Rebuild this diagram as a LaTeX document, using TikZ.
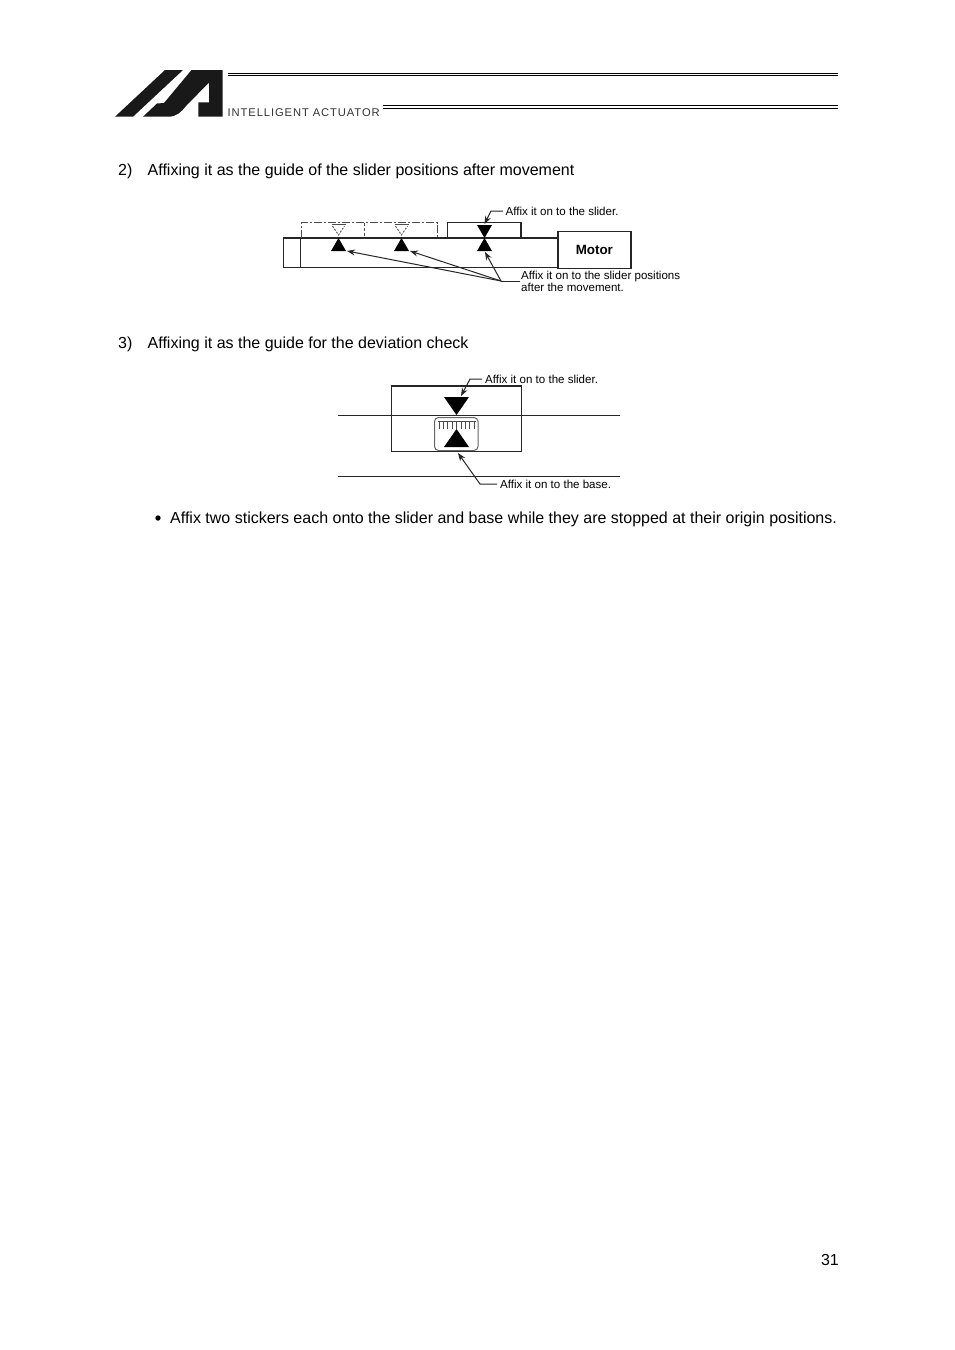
\documentclass[tikz,border=0pt]{standalone}
\usepackage{fontspec}
\setmainfont{Liberation Sans}
\usetikzlibrary{arrows.meta}
\tikzset{
 x=1pt,y=-1pt,
 body/.style={anchor=base west,inner sep=0pt,font=\fontsize{16}{18}\selectfont},
 small/.style={anchor=base west,inner sep=0pt,align=left,font=\fontsize{11.55}{12}\selectfont},
 ln/.style={draw=black!85,line width=1.7pt},
 lead/.style={draw=black!85,line width=1pt},
 arr/.style={lead,-{Stealth[length=8pt,width=6pt]}},
 ghost/.style={draw=black!70,line width=0.9pt},
 tri/.style={fill=black,draw=none}
}
\begin{document}
\begin{tikzpicture}
\useasboundingbox (0,0) rectangle (954,1350);
\fill[white] (0,0) rectangle (954,1350);
% logo
\fill[black!90] (115,116.7) -- (165,70) -- (183,70) -- (133,116.7) -- cycle;
\fill[black!90] (143,116.7) -- (157,103.5) -- (164,103) -- (191.5,70) -- (222.7,70) -- (222.7,116.7) -- (198.3,116.7) -- (198.3,102.3) -- (209,102.3) -- (209,82.5) -- (186,106) .. controls (181,112) and (177,116.7) .. (168,116.7) -- cycle;
\draw[draw=black,line width=1.2pt] (228,73.2) -- (838,73.2);
\draw[draw=black,line width=0.7pt] (228,75.8) -- (838,75.8);
\draw[draw=black,line width=1.2pt] (383,105.8) -- (838,105.8);
\draw[draw=black,line width=1.4pt] (383,108.3) -- (838,108.3);
\node[anchor=base west,inner sep=0pt,font=\fontsize{11.2}{12}\selectfont\addfontfeature{LetterSpace=8},text=black!80] (brand) at (227.5,116) {INTELLIGENT ACTUATOR};
% headings
\node[body] (h2n) at (118,175) {2)};
\node[body] (h2) at (147.5,175) {Affixing it as the guide of the slider positions after movement};
\node[body] (h3n) at (118,348) {3)};
\node[body] (h3) at (147.5,348) {Affixing it as the guide for the deviation check};
\fill (158,518) circle (2.7);
\node[body] (note) at (170,523) {Affix two stickers each onto the slider and base while they are stopped at their origin positions.};
\node[anchor=base east,inner sep=0pt,font=\fontsize{16}{18}\selectfont] (pg) at (839,1265.5) {31};
% diagram 1
\draw[ln] (283.5,238) rectangle (557.5,267.5);
\draw[ln] (300.5,238) -- (300.5,267.5);
\draw[ln] (447.5,238) |- (521,222.5) -- (521,238);
\node[draw=black!85,line width=1.7pt,minimum width=73pt,minimum height=37pt,inner sep=0pt,anchor=north west,font=\fontsize{13.4}{14}\selectfont\bfseries] (motor) at (557,230.5) {Motor};
\draw[ghost,dash pattern=on 8pt off 2pt on 2pt off 2pt] (301.5,238) |- (437.5,222.5) -- (437.5,238);
\draw[ghost,dash pattern=on 3pt off 2pt] (364.5,222.5) -- (364.5,238);
\foreach \cx in {338.5,401.5}{
 \draw[ghost] (\cx-7,224.5) -- (\cx+7,224.5);
 \draw[ghost,dash pattern=on 2pt off 1.5pt] (\cx-6,226) -- (\cx,235) -- (\cx+6,226);
 \fill[tri] (\cx,238) -- (\cx+7.5,251) -- (\cx-7.5,251) -- cycle;
}
\fill[tri] (484.5,238) -- (492,251) -- (477,251) -- cycle;
\fill[tri] (484.5,238) -- (492,225) -- (477,225) -- cycle;
\node[small] (t1) at (505.5,215) {Affix it on to the slider.};
\node[small] (t2) at (521,279) {Affix it on to the slider positions};
\node[small] (t3) at (521,291) {after the movement.};
\coordinate (e1) at (484.5,224);
\draw[arr] (503,211) -- (491,211) -- (e1);
\coordinate (j) at (501,281);
\draw[lead] (520,281) -- (j);
\draw[arr] (j) -- (347,251);
\draw[arr] (j) -- (410,251);
\draw[arr] (j) -- (485,252);
% diagram 2
\draw[ln] (391.5,386) rectangle (521.5,451.5);
\draw[ln] (338,415.5) -- (619.5,415.5);
\draw[ln] (338,476.5) -- (619.5,476.5);
\node[small] (t4) at (485,383) {Affix it on to the slider.};
\node[small] (t5) at (500,488) {Affix it on to the base.};
\draw[arr] (482,379) -- (470,379) -- (461,396);
\draw[arr] (497,484) -- (480,484) -- (458,453);
\fill[tri] (456.5,415) -- (444,397) -- (469,397) -- cycle;
\draw[draw=black!60,line width=1pt,fill=white,rounded corners=4pt] (434.5,417.5) rectangle (478,450.5);
\fill[tri] (456.5,429) -- (469,447) -- (444,447) -- cycle;
\draw[draw=black!70,line width=0.7pt] (438,421.5) -- (475.5,421.5);
\foreach \i in {-4,...,4}{\draw[draw=black!70,line width=0.7pt] (456.5+\i*4.4,421.5) -- (456.5+\i*4.4,428.5);}
\end{tikzpicture}
\end{document}
